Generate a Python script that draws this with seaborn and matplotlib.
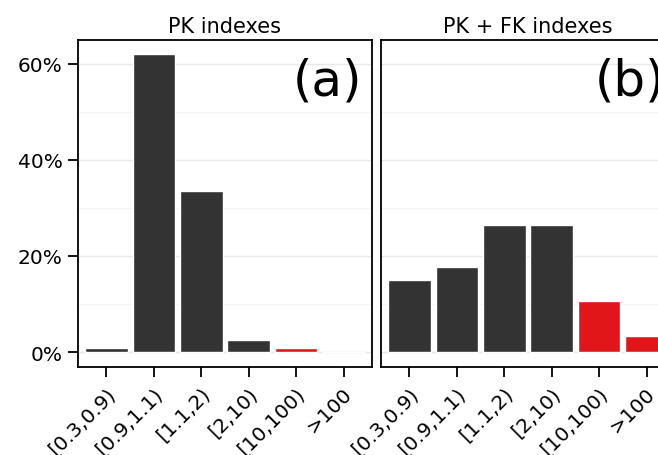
import numpy as np
import pandas as pd
import matplotlib
matplotlib.use("Agg")
import matplotlib.pyplot as plt
from matplotlib.ticker import FixedLocator, FuncFormatter
from matplotlib.transforms import ScaledTranslation
import seaborn as sns

# ratio bins and share of queries (%) per panel
bins = ["[0.3,0.9)", "[0.9,1.1)", "[1.1,2)", "[2,10)", "[10,100)", ">100"]
pk_share = [0.75, 61.9, 33.6, 2.5, 0.75, 0.0]
pkfk_share = [14.9, 17.6, 26.5, 26.5, 10.6, 3.4]
slow = [False, False, False, False, True, True]
panel_titles = ["PK indexes", "PK + FK indexes"]
panel_tags = ["(a)", "(b)"]

DARK = "#333333"
RED = "#E0161B"

sns.set_theme(style="white")
plt.rcParams["font.family"] = ["DejaVu Sans"]

fig = plt.figure(figsize=(6.58, 4.56), dpi=100)
W, H = 658, 456
ax_l = fig.add_axes([78 / W, 88 / H, 294 / W, 327 / H])
ax_r = fig.add_axes([381 / W, 88 / H, 294 / W, 327 / H])
shift = ScaledTranslation(6 / 100, 0, fig.dpi_scale_trans)

for i, (ax, vals) in enumerate(zip([ax_l, ax_r], [pk_share, pkfk_share])):
    df = pd.DataFrame({"bin": bins, "share": vals,
                       "grp": ["slow" if s else "fast" for s in slow]})
    ax.set_axisbelow(True)
    for y in [10, 30, 50]:
        ax.axhline(y, color="#F4F4F4", lw=0.9, zorder=0)
    for y in [0, 20, 40, 60]:
        ax.axhline(y, color="#E8E8E8", lw=1.0, zorder=0)
    sns.barplot(data=df, x="bin", y="share", hue="grp", order=bins,
                palette={"fast": DARK, "slow": RED}, dodge=False, width=0.9,
                saturation=1, legend=False, ax=ax, zorder=2)
    ax.set_xlim(-0.6, 5.6)
    ax.set_ylim(-3.1, 64.9)
    ax.set_xlabel("")
    ax.set_ylabel("")
    ax.set_title(panel_titles[i], fontsize=15, pad=6, color="black")
    ax.text(0.967, 0.95, panel_tags[i], transform=ax.transAxes, ha="right",
            va="top", fontsize=36, color="black")
    for sp in ax.spines.values():
        sp.set_color("black")
        sp.set_linewidth(1.3)
    ax.yaxis.set_major_locator(FixedLocator([0, 20, 40, 60]))
    ax.yaxis.set_major_formatter(FuncFormatter(lambda v, p: f"{v:.0f}%"))
    ax.tick_params(axis="both", which="major", length=7, width=1.3,
                   color="black", direction="out", labelsize=14.5,
                   labelcolor="black", bottom=True, left=(i == 0))
    ax.tick_params(axis="x", pad=9.5)
    ax.tick_params(axis="y", pad=4)
    if i == 1:
        ax.set_yticklabels([])
    for lbl in ax.get_xticklabels():
        lbl.set_rotation(45)
        lbl.set_ha("right")
        lbl.set_va("center")
        lbl.set_rotation_mode("anchor")
        lbl.set_transform(lbl.get_transform() + shift)

fig.savefig("out.png", dpi=100, facecolor="white")
